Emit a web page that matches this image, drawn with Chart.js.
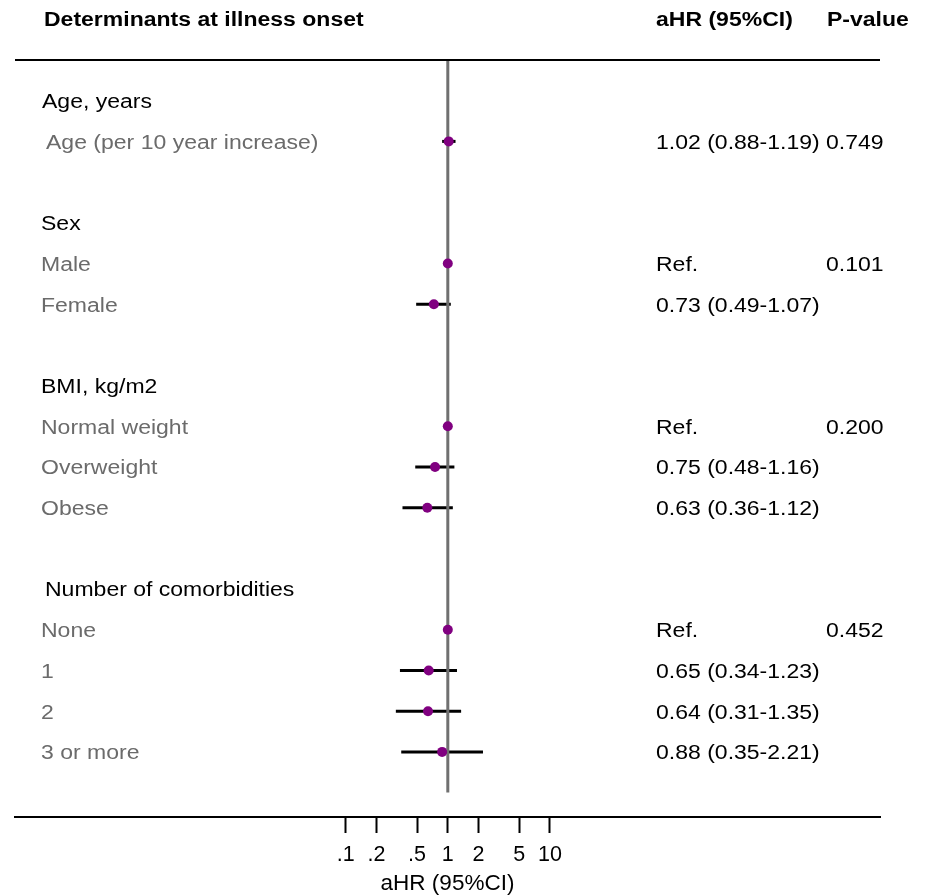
<!DOCTYPE html>
<html>
<head>
<meta charset="utf-8">
<script src="https://cdn.jsdelivr.net/npm/chart.js@4.4.1/dist/chart.umd.min.js"></script>
<style>
  html, body { margin: 0; padding: 0; background: #ffffff; }
  #wrap { width: 928px; height: 896px; }
</style>
</head>
<body>
<div id="wrap"><canvas id="c" width="928" height="896"></canvas></div>
<script>
// ---------- data ----------
const rowLabels = ["Age, years", "Age (per 10 year increase)", "", "Sex", "Male", "Female", "",
  "BMI, kg/m2", "Normal weight", "Overweight", "Obese", "",
  "Number of comorbidities", "None", "1", "2", "3 or more"];
const rowIsGroup = [true, false, false, true, false, false, false,
  true, false, false, false, false,
  true, false, false, false, false];
const estimates = [null, 1.02, null, null, 1, 0.73, null, null, 1, 0.75, 0.63, null, null, 1, 0.65, 0.64, 0.88];
const lowerCI   = [null, 0.88, null, null, null, 0.49, null, null, null, 0.48, 0.36, null, null, null, 0.34, 0.31, 0.35];
const upperCI   = [null, 1.19, null, null, null, 1.07, null, null, null, 1.16, 1.12, null, null, null, 1.23, 1.35, 2.21];
const estTexts  = ["", "1.02 (0.88-1.19)", "", "", "Ref.", "0.73 (0.49-1.07)", "", "", "Ref.", "0.75 (0.48-1.16)", "0.63 (0.36-1.12)", "", "", "Ref.", "0.65 (0.34-1.23)", "0.64 (0.31-1.35)", "0.88 (0.35-2.21)"];
const pTexts    = ["", "0.749", "", "", "0.101", "", "", "", "0.200", "", "", "", "", "0.452", "", "", ""];
const tickValues = [0.1, 0.2, 0.5, 1, 2, 5, 10];
const tickLabels = [".1", ".2", ".5", "1", "2", "5", "10"];
const headerLeft = "Determinants at illness onset";
const headerEst = "aHR (95%CI)";
const headerP = "P-value";
const axisTitle = "aHR (95%CI)";
const refValue = 1;

// ---------- style / layout ----------
const FONT = "'Liberation Sans', Arial, sans-serif";
const STRETCH = 1.18;
const TEXT_DY = 2;
const labelX = { 0: 42, 1: 46, 12: 45 };
const defaultLabelX = 41;

const whiskerSets = [];
estimates.forEach((e, i) => {
  if (lowerCI[i] != null && upperCI[i] != null) {
    whiskerSets.push({
      type: 'line',
      data: [{ x: lowerCI[i], y: i }, { x: upperCI[i], y: i }],
      borderColor: '#000000', borderWidth: 3, pointRadius: 0,
      borderCapStyle: 'butt', order: 3
    });
  }
});
const pointData = [];
estimates.forEach((e, i) => { if (e != null) pointData.push({ x: e, y: i }); });

const textPlugin = {
  id: 'forestText',
  afterDraw(chart) {
    const ctx = chart.ctx;
    const ys = chart.scales.y;
    const ca = chart.chartArea;
    ctx.save();
    // top rule
    ctx.strokeStyle = '#000000';
    ctx.lineWidth = 2;
    ctx.beginPath();
    ctx.moveTo(ca.left, ca.top);
    ctx.lineTo(ca.right, ca.top);
    ctx.stroke();

    function txt(s, x, y, font, color) {
      ctx.save();
      ctx.font = font;
      ctx.fillStyle = color;
      ctx.textBaseline = 'middle';
      ctx.textAlign = 'left';
      ctx.translate(x, y + TEXT_DY);
      ctx.scale(STRETCH, 1);
      ctx.fillText(s, 0, 0);
      ctx.restore();
    }
    const bold = "bold 19.5px " + FONT;
    const reg = "19.5px " + FONT;
    txt(headerLeft, 44, 19, bold, '#000000');
    txt(headerEst, 656, 19, bold, '#000000');
    txt(headerP, 827, 19, bold, '#000000');
    rowLabels.forEach((lab, i) => {
      const y = ys.getPixelForValue(i);
      if (lab) {
        const x = labelX[i] != null ? labelX[i] : defaultLabelX;
        txt(lab, x, y, reg, rowIsGroup[i] ? '#000000' : '#6b6b6b');
      }
      if (estTexts[i]) txt(estTexts[i], 656, y, reg, '#000000');
      if (pTexts[i]) txt(pTexts[i], 826, y, reg, '#000000');
    });
    ctx.restore();
  }
};

new Chart(document.getElementById('c'), {
  type: 'scatter',
  data: {
    datasets: [
      ...whiskerSets,
      {
        type: 'line',
        data: [{ x: refValue, y: -1 }, { x: refValue, y: 17 }],
        borderColor: '#707070', borderWidth: 3, pointRadius: 0, order: 2
      },
      {
        type: 'scatter',
        data: pointData,
        backgroundColor: '#800080', borderWidth: 0, pointRadius: 5, order: 1
      }
    ]
  },
  options: {
    responsive: false,
    animation: false,
    events: [],
    layout: { padding: { top: 60, left: 15, right: 48, bottom: 0 } },
    plugins: { legend: { display: false }, tooltip: { enabled: false } },
    scales: {
      x: {
        type: 'logarithmic',
        position: 'bottom',
        min: Math.pow(10, -4.237),
        max: Math.pow(10, 4.231),
        afterBuildTicks(scale) { scale.ticks = tickValues.map(v => ({ value: v })); },
        afterFit(scale) { scale.height = 79; },
        grid: { drawOnChartArea: false, drawTicks: true, tickLength: 16, tickWidth: 2, tickColor: '#000000' },
        border: { display: true, color: '#000000', width: 2 },
        ticks: {
          autoSkip: false, maxRotation: 0, padding: 9,
          color: '#000000',
          font: { family: FONT, size: 21.5 },
          callback(v) { const k = tickValues.indexOf(v); return k >= 0 ? tickLabels[k] : ''; }
        },
        title: {
          display: true, text: axisTitle, color: '#000000',
          font: { family: FONT, size: 22.5, lineHeight: 1.067 }, padding: { top: 0, bottom: 0 }
        }
      },
      y: {
        type: 'linear', reverse: true, min: -1, max: 17.6, display: false
      }
    }
  },
  plugins: [textPlugin]
});
</script>
</body>
</html>
